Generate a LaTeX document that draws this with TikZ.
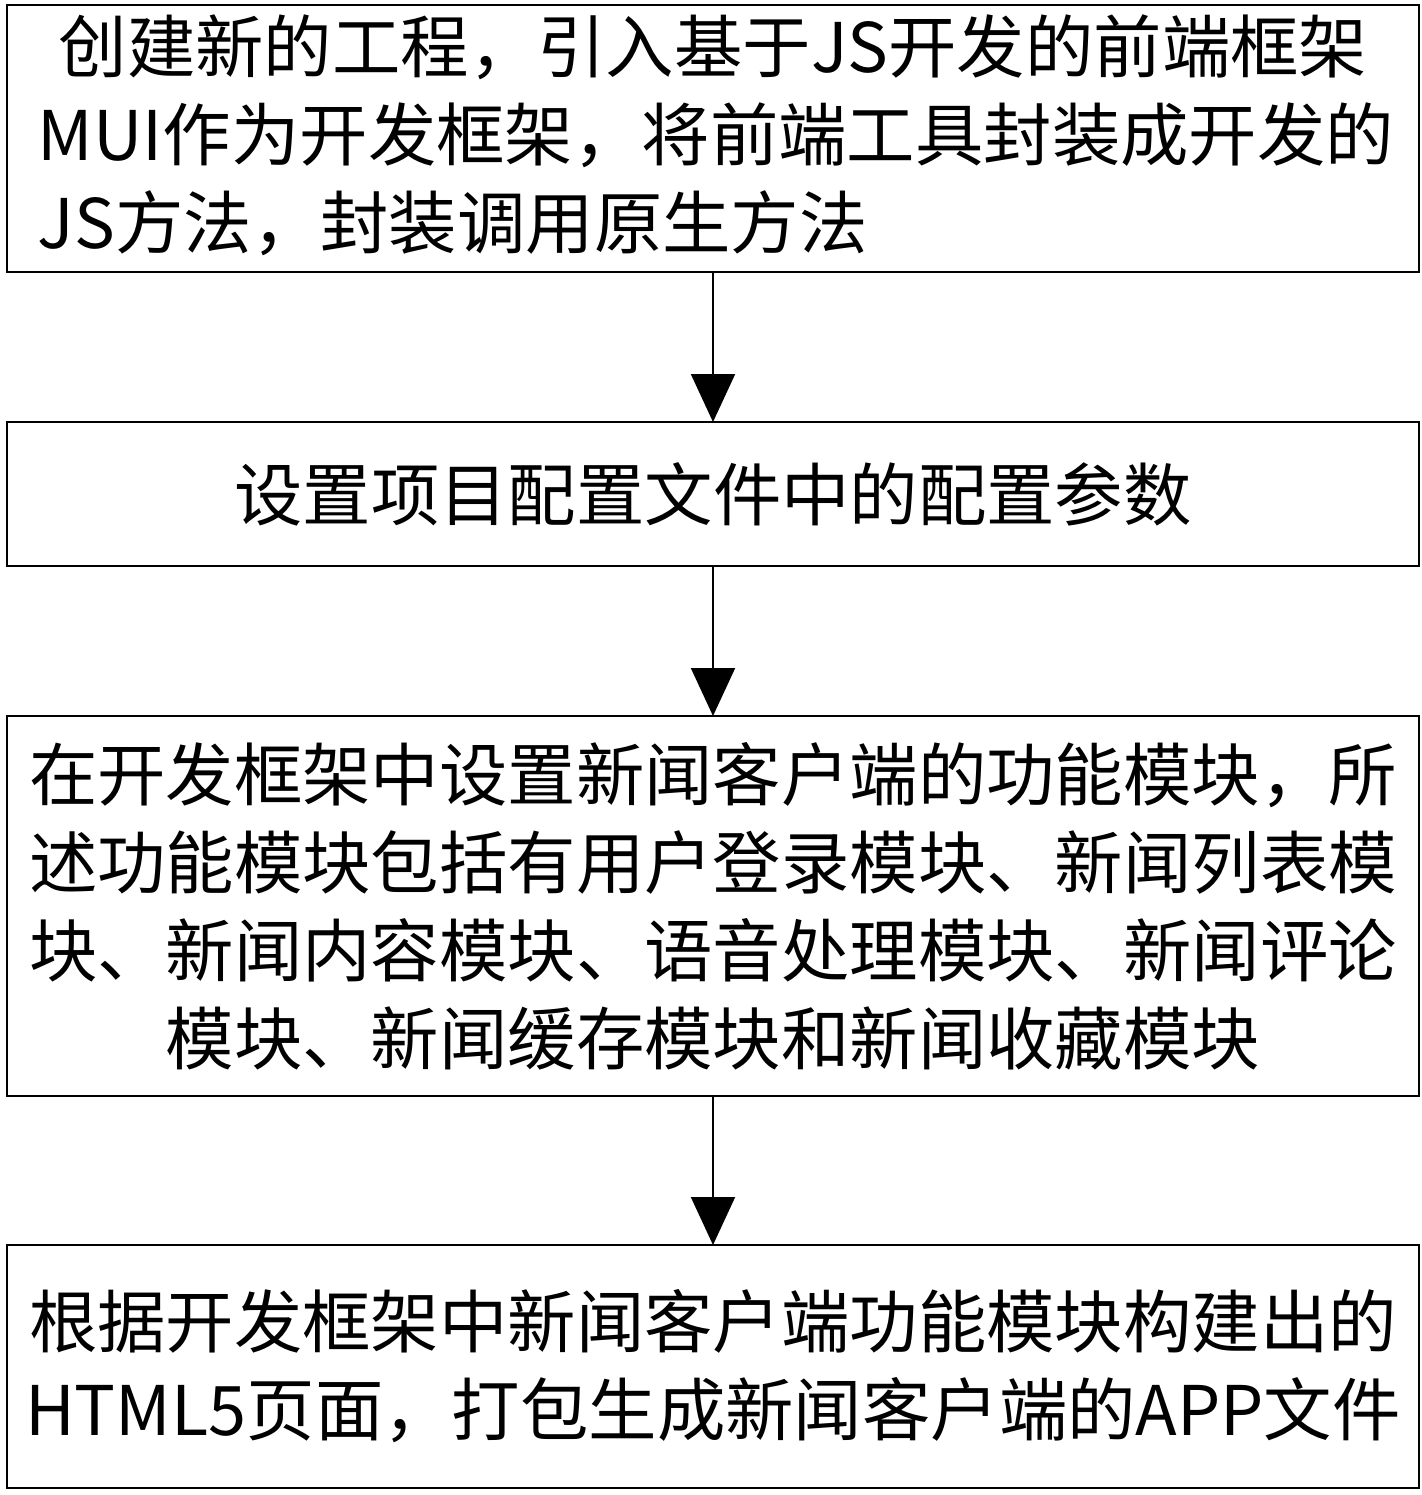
\documentclass[tikz,border=0pt]{standalone}
\usepackage{fontspec}
\usetikzlibrary{arrows.meta}
\setmainfont{Noto Sans CJK SC}
\begin{document}
\begin{tikzpicture}[x=0.5pt,y=-0.5pt,
  bx/.style={draw,line width=1.2pt},
  txt/.style={font=\fontsize{34.2}{44}\selectfont,align=center,inner sep=0pt},
  arr/.style={line width=1pt,-{Triangle[length=24pt,width=22pt]}}]
\useasboundingbox (0,0) rectangle (1421,1495);
\draw[bx] (7,5) rectangle (1419,272);
\draw[bx] (7,422) rectangle (1419,566);
\draw[bx] (7,716) rectangle (1419,1096);
\draw[bx] (7,1245) rectangle (1419,1488);
\node[txt,text width=675pt] (t1) at (713,135) {创建新的工程，引入基于JS开发的前端框架\\MUI作为开发框架，将前端工具封装成开发的\\\makebox[\linewidth][l]{JS方法，封装调用原生方法}};
\node[txt] (t2) at (713,494) {设置项目配置文件中的配置参数};
\node[txt] (t3) at (713,906) {在开发框架中设置新闻客户端的功能模块，所\\述功能模块包括有用户登录模块、新闻列表模\\块、新闻内容模块、语音处理模块、新闻评论\\模块、新闻缓存模块和新闻收藏模块};
\node[txt] (t4) at (713,1366) {根据开发框架中新闻客户端功能模块构建出的\\HTML5页面，打包生成新闻客户端的APP文件};
\coordinate (a1) at (713,272); \coordinate (b1) at (713,422);
\coordinate (a2) at (713,566); \coordinate (b2) at (713,716);
\coordinate (a3) at (713,1096); \coordinate (b3) at (713,1245);
\draw[arr] (a1) -- (b1);
\draw[arr] (a2) -- (b2);
\draw[arr] (a3) -- (b3);
\end{tikzpicture}
\end{document}
